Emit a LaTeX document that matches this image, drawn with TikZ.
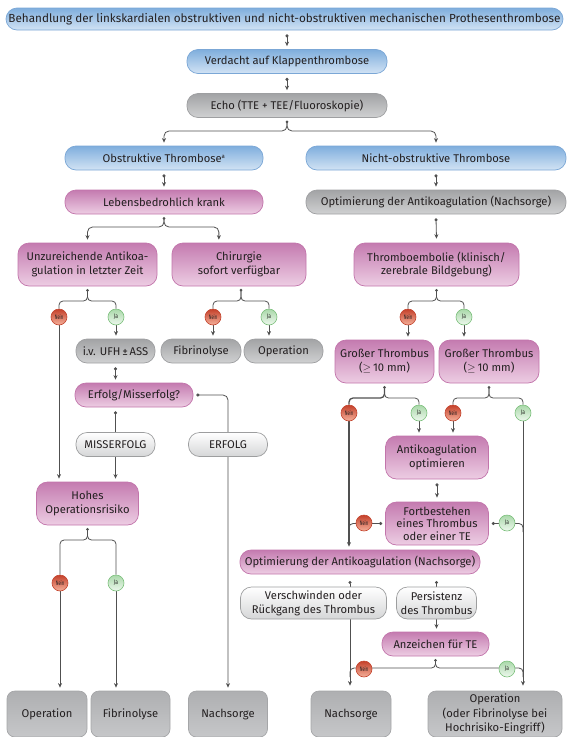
\documentclass[tikz,border=0pt]{standalone}
\usepackage{fontspec}
\setmainfont{Fira Sans}
\usetikzlibrary{arrows.meta,calc}
\pgfdeclarelayer{bg}
\pgfsetlayers{bg,main}
\definecolor{lc}{HTML}{505050}
\definecolor{txt}{HTML}{231F20}
\definecolor{blueT}{HTML}{7FAEDD}
\definecolor{blueB}{HTML}{D2E3F4}
\definecolor{blueD}{HTML}{7BA7D6}
\definecolor{pinkT}{HTML}{C47BB0}
\definecolor{pinkB}{HTML}{EDCDE3}
\definecolor{pinkD}{HTML}{C275AB}
\definecolor{grayT}{HTML}{A2A3A5}
\definecolor{grayB}{HTML}{D0D1D2}
\definecolor{grayD}{HTML}{9E9FA1}
\definecolor{botT}{HTML}{AEAFB1}
\definecolor{botB}{HTML}{C6C7C9}
\definecolor{botD}{HTML}{A5A6A8}
\definecolor{whiteB}{HTML}{D5D6D7}
\definecolor{whiteD}{HTML}{9D9E9F}
\definecolor{neinT}{HTML}{C4402A}
\definecolor{neinB}{HTML}{F4B09A}
\definecolor{neinD}{HTML}{C4452F}
\definecolor{jaT}{HTML}{A9D8A9}
\definecolor{jaB}{HTML}{EEF8EE}
\definecolor{jaD}{HTML}{7CC07C}
\tikzset{
  box/.style={rounded corners=11pt, align=center, inner sep=0pt, line width=0.7pt,
    text=txt, font=\fontsize{11.2}{13.8}\selectfont, minimum height=24pt},
  tall/.style={minimum height=43pt},
  bluebox/.style={box, top color=blueT, bottom color=blueB, draw=blueD},
  pinkbox/.style={box, top color=pinkT, bottom color=pinkB, draw=pinkD},
  graybox/.style={box, top color=grayT, bottom color=grayB, draw=grayD},
  whitebox/.style={box, top color=white, bottom color=whiteB, draw=whiteD},
  botbox/.style={box, rounded corners=8pt, top color=botT, bottom color=botB, draw=botD, minimum height=46pt},
  yn/.style={circle, minimum size=16pt, inner sep=0pt, line width=0.6pt, text=txt,
    font=\fontsize{6.5}{7}\selectfont},
  nein/.style={yn, top color=neinT, bottom color=neinB, draw=neinD},
  ja/.style={yn, top color=jaT, bottom color=jaB, draw=jaD},
  ln/.style={draw=lc, line width=0.8pt},
  arr/.style={ln, -{Stealth[length=4.5pt,width=4pt]}},
  darr/.style={ln, {Circle[length=3pt]}-{Stealth[length=4.5pt,width=4pt]}},
  dln/.style={ln, {Circle[length=3pt]}-},
}
\newcommand\NN{\scalebox{0.62}[1]{Nein}}
\newcommand\JJ{\scalebox{0.75}[1]{Ja}}
\begin{document}
\begin{tikzpicture}[x=1pt,y=-1pt]
\useasboundingbox (0,0) rectangle (567,737);
\clip (0,0) rectangle (567,737);
% ---------- nodes ----------
\node[bluebox, minimum width=557pt, minimum height=22pt, font=\fontsize{11.7}{14}\selectfont] (title) at (284.5,19) {Behandlung der linkskardialen obstruktiven und nicht-obstruktiven mechanischen Prothesenthrombose};
\node[bluebox, minimum width=200pt] (verd) at (287,61.5) {Verdacht auf Klappenthrombose};
\node[graybox, minimum width=200pt] (echo) at (287,105.5) {Echo (TTE + TEE/Fluoroskopie)};
\node[bluebox, minimum width=198pt] (obst) at (164,158) {Obstruktive Thrombose\textsuperscript{\fontsize{6}{6}\selectfont a}};
\node[bluebox, minimum width=260pt] (nobst) at (436,158) {Nicht-obstruktive Thrombose};
\node[pinkbox, minimum width=198pt] (leben) at (164,202) {Lebensbedrohlich krank};
\node[graybox, minimum width=260pt] (opt1) at (436,202) {Optimierung der Antikoagulation (Nachsorge)};
\node[pinkbox, tall, minimum width=139pt] (unzu) at (87.5,264.5) {Unzureichende Antikoa-\\gulation in letzter Zeit};
\node[pinkbox, tall, minimum width=134pt] (chir) at (239,264.5) {Chirurgie\\sofort verfügbar};
\node[pinkbox, tall, minimum width=165pt] (temb) at (436.5,264.5) {Thromboembolie (klinisch/\\zerebrale Bildgebung)};
\node[nein] (n1) at (59,317) {\NN};
\node[ja] (j1) at (116,317) {\JJ};
\node[nein] (n2) at (213,317) {\NN};
\node[ja] (j2) at (269,317) {\JJ};
\node[nein] (n3) at (408,317) {\NN};
\node[ja] (j3) at (464,317) {\JJ};
\node[graybox, minimum width=79pt] (ufh) at (115.5,351) {i.v. UFH\,±\,ASS};
\node[graybox, minimum width=80pt] (fib1) at (201,351) {Fibrinolyse};
\node[graybox, minimum width=79pt] (op1) at (283.5,351) {Operation};
\node[pinkbox, tall, minimum width=99pt] (gr1) at (384.5,361.5) {Großer Thrombus\\($\ge$\,10 mm)};
\node[pinkbox, tall, minimum width=100pt] (gr2) at (489,361.5) {Großer Thrombus\\($\ge$\,10 mm)};
\node[pinkbox, minimum width=118pt] (erfq) at (134,395) {Erfolg/Misserfolg?};
\node[whitebox, minimum width=79pt] (miss) at (115.5,444.5) {MISSERFOLG};
\node[whitebox, minimum width=79pt] (erf) at (228,444.5) {ERFOLG};
\node[pinkbox, tall, minimum width=102pt] (hohes) at (87.5,503.5) {Hohes\\Operationsrisiko};
\node[nein] (n4) at (60,583) {\NN};
\node[ja] (j4) at (116,583) {\JJ};
\node[nein] (n5) at (349,413) {\NN};
\node[ja] (j5) at (419,413) {\JJ};
\node[nein] (n6) at (453,413) {\NN};
\node[ja] (j6) at (523,413) {\JJ};
\node[pinkbox, tall, minimum width=103pt] (antik) at (437,457.5) {Antikoagulation\\optimieren};
\node[pinkbox, tall, minimum width=103pt, font=\fontsize{11.2}{12.6}\selectfont] (fortb) at (437,523.5) {Fortbestehen\\eines Thrombus\\oder einer TE};
\node[nein] (n7) at (364,523) {\NN};
\node[ja] (j7) at (507,523) {\JJ};
\node[pinkbox, minimum width=240pt] (opt2) at (360,562) {Optimierung der Antikoagulation (Nachsorge)};
\node[whitebox, minimum height=32pt, minimum width=146pt] (versch) at (313.5,603) {Verschwinden oder\\Rückgang des Thrombus};
\node[whitebox, minimum height=32pt, minimum width=80pt] (pers) at (436.5,603) {Persistenz\\des Thrombus};
\node[pinkbox, minimum width=107pt] (anz) at (435.5,644) {Anzeichen für TE};
\node[nein] (n8) at (364,669) {\NN};
\node[ja] (j8) at (507,669) {\JJ};
\node[botbox, minimum width=80pt] (opb) at (47,714) {Operation};
\node[botbox, minimum width=79pt] (fibb) at (130.5,714) {Fibrinolyse};
\node[botbox, minimum width=79pt] (nach1) at (228,714) {Nachsorge};
\node[botbox, minimum width=80pt] (nach2) at (351,714) {Nachsorge};
\node[botbox, minimum width=134pt, font=\fontsize{11.2}{14.5}\selectfont] (opr) at (495,714) {Operation\\(oder Fibrinolyse bei\\Hochrisiko-Eingriff)};
% ---------- connectors ----------
\begin{pgfonlayer}{bg}
\draw[darr] ([yshift=-4pt]title.south -| verd.north) -- ([yshift=3pt]verd.north);
\draw[darr] ([yshift=-4pt]verd.south) -- ([yshift=3pt]echo.north);
% echo branch
\coordinate (eS) at ([yshift=-4pt]echo.south);
\coordinate (eJ) at (287,131);
\draw[arr, rounded corners=5pt] (eS) -- (eJ) -| ([yshift=3pt]obst.north);
\draw[arr, rounded corners=5pt] (eS) -- (eJ) -| ([yshift=3pt]nobst.north);
\fill[lc] (eS) circle (1.5pt);
\draw[darr] ([yshift=-4pt]obst.south) -- ([yshift=3pt]leben.north);
\draw[darr] ([yshift=-4pt]nobst.south) -- ([yshift=3pt]opt1.north);
\draw[darr] ([yshift=-4pt]opt1.south) -- ([yshift=4pt]temb.north);
% leben branch
\coordinate (lS) at ([yshift=-4pt]leben.south);
\coordinate (lJ) at (164,227);
\draw[arr, rounded corners=5pt] (lS) -- (lJ) -| ([yshift=3pt]unzu.north);
\draw[arr, rounded corners=5pt] (lS) -- (lJ) -| ([yshift=3pt]chir.north -| n2.north east);
\fill[lc] (lS) circle (1.5pt);
% unzu branch
\coordinate (uS) at ([yshift=-4pt]unzu.south);
\coordinate (uJ) at (87.5,301);
\draw[ln, rounded corners=4pt] (n1) |- (uJ) -- (uS);
\draw[ln, rounded corners=4pt] (j1) |- (uJ) -- (uS);
\fill[lc] (uS) circle (1.5pt);
% chir branch
\coordinate (cS) at (241,290);
\coordinate (cJ) at (241,301);
\draw[ln, rounded corners=4pt] (n2) |- (cJ) -- (cS);
\draw[ln, rounded corners=4pt] (j2) |- (cJ) -- (cS);
\fill[lc] (cS) circle (1.5pt);
% temb branch
\coordinate (tS) at ([yshift=-4pt]temb.south);
\coordinate (tJ) at (436.5,301);
\draw[ln, rounded corners=4pt] (n3) |- (tJ) -- (tS);
\draw[ln, rounded corners=4pt] (j3) |- (tJ) -- (tS);
\fill[lc] (tS) circle (1.5pt);
% yes/no targets
\draw[arr, shorten >=3pt] (n1) -- (n1 |- hohes.north);
\draw[arr, shorten >=3pt] (j1) -- (j1 |- ufh.north);
\draw[arr, shorten >=3pt] (n2) -- (n2 |- fib1.north);
\draw[arr, shorten >=3pt] (j2) -- (j2 |- op1.north);
\draw[arr, shorten >=3pt] (n3) -- (n3 |- gr1.north);
\draw[arr, shorten >=3pt] (j3) -- (j3 |- gr2.north);
% ufh -> erfolg?
\draw[darr] ([yshift=-4pt]ufh.south) -- ([yshift=3pt]ufh.south |- erfq.north);
% erfolg? -> misserfolg -> hohes
\coordinate (mS) at ([yshift=-4pt]miss.north |- erfq.south);
\draw[darr, shorten >=3pt] (mS) -- (miss.north |- hohes.north);
% erfolg? -> erfolg -> nachsorge
\draw[darr, rounded corners=5pt, shorten >=3pt] ([xshift=3pt]erfq.east) -| (nach1.north);
% hohes branch
\coordinate (hS) at ([yshift=-4pt]hohes.south);
\coordinate (hJ) at (87.5,540);
\draw[ln, rounded corners=4pt] (n4) |- (hJ) -- (hS);
\draw[ln, rounded corners=4pt] (j4) |- (hJ) -- (hS);
\fill[lc] (hS) circle (1.5pt);
\draw[arr, shorten >=3pt] (n4) -- (n4 |- opb.north);
\draw[arr, shorten >=3pt] (j4) -- (j4 |- fibb.north);
% gr1 branch
\coordinate (g1S) at ([yshift=-4pt]gr1.south);
\coordinate (g1J) at (384.5,398);
\draw[ln, line width=1.3pt, rounded corners=4pt] (n5) |- (g1J) -- (g1S);
\draw[ln, rounded corners=4pt] (j5) |- (g1J) -- (g1S);
\fill[lc] (g1S) circle (1.5pt);
% gr2 branch
\coordinate (g2S) at ([yshift=-4pt]gr2.south);
\coordinate (g2J) at (489,398);
\draw[ln, rounded corners=4pt] (n6) |- (g2J) -- (g2S);
\draw[ln, rounded corners=4pt] (j6) |- (g2J) -- (g2S);
\fill[lc] (g2S) circle (1.5pt);
\draw[arr, line width=1.3pt, shorten >=3pt] (n5) -- (n5 |- opt2.north);
\draw[arr, shorten >=3pt] (j5) -- (j5 |- antik.north);
\draw[arr, shorten >=3pt] (n6) -- (n6 |- antik.north);
\draw[arr, shorten >=5pt] (j6) -- (j6 |- opr.north);
% antik -> fortb
\draw[darr] ([yshift=-4pt]antik.south) -- ([yshift=4pt]fortb.north);
% fortb sides
\coordinate (f7) at (349,532);
\coordinate (f8) at (523,532);
\draw[dln, rounded corners=4pt] ([xshift=-3pt]fortb.west) -| (f7);
\draw[dln, rounded corners=4pt] ([xshift=3pt]fortb.east) -| (f8);
% opt2 -> versch -> nachsorge
\coordinate (o2a) at (350,581);
\coordinate (o2b) at (436.5,581);
\draw[darr, shorten >=5pt] (o2a) -- (o2a |- nach2.north);
\draw[darr, shorten >=3pt] (o2b) -- (o2b |- anz.north);
% anz branch
\coordinate (aS) at ([yshift=-4pt]anz.south);
\coordinate (aJ) at (435.5,668);
\coordinate (a7) at (350,677);
\coordinate (a8) at (523,677);
\draw[ln, rounded corners=4pt] (aS) -- (aJ) -| (a7);
\draw[ln, rounded corners=4pt] (aS) -- (aJ) -| (a8);
\fill[lc] (aS) circle (1.5pt);
\end{pgfonlayer}
\end{tikzpicture}
\end{document}
